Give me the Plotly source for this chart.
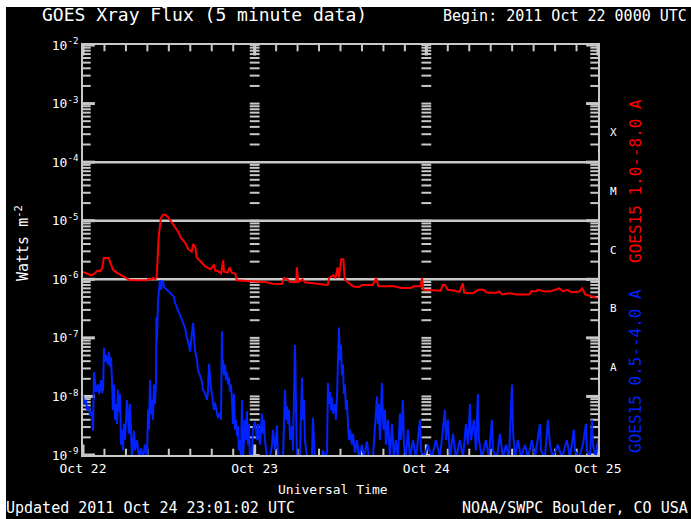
import numpy as np
import pandas as pd
import plotly.graph_objects as go

# ---- data -------------------------------------------------------------
BEGIN = pd.Timestamp("2011-10-22 00:00")

# GOES-15 long channel (1.0-8.0 A), hours since begin, W m^-2
red_hours = [
    0.00, 0.50, 1.10, 1.60, 2.00, 2.40, 2.70, 2.90, 3.60, 3.90, 4.20, 4.70,
    5.30, 5.90, 6.60, 8.00, 8.90, 9.20, 9.50, 9.80, 10.10, 10.30, 10.45, 10.60,
    10.80, 10.90, 11.20, 11.50, 11.90, 12.40, 12.90, 13.30, 13.70, 14.30, 14.70,
    15.20, 15.40, 15.70, 15.90, 16.40, 17.10, 17.80, 18.00, 18.30, 18.50, 18.80,
    19.30, 19.60, 19.70, 20.20, 20.50, 20.80, 21.30, 21.50, 23.00, 24.00, 25.50,
    26.50, 27.80, 28.10, 28.60, 29.00, 29.80, 29.90, 30.10, 30.70, 31.00, 32.50,
    33.60, 34.20, 34.40, 35.00, 35.30, 35.60, 35.80, 36.10, 36.40, 36.60, 37.00,
    37.80, 38.60, 39.00, 40.50, 41.00, 41.30, 43.50, 44.50, 45.80, 46.30, 47.20,
    47.40, 47.60, 50.00, 50.30, 50.60, 51.00, 52.00, 52.60, 53.10, 53.30, 54.50,
    55.30, 56.00, 56.50, 57.80, 58.20, 58.60, 59.30, 60.00, 60.60, 62.40, 62.70,
    63.30, 63.60, 64.60, 65.50, 66.60, 67.10, 67.70, 68.30, 69.40, 69.80, 70.20,
    71.00, 71.90,
]
red_flux = [
    1.33e-6, 1.25e-6, 1.17e-6, 1.25e-6, 1.40e-6, 1.38e-6, 1.55e-6, 2.30e-6,
    2.30e-6, 1.80e-6, 1.45e-6, 1.30e-6, 1.17e-6, 1.07e-6, 9.6e-7, 9.6e-7,
    9.6e-7, 1.02e-6, 9.8e-7, 1.05e-6, 1.00e-6, 1.10e-6, 3.5e-6, 5.6e-6,
    8.9e-6, 1.12e-5, 1.27e-5, 1.27e-5, 1.15e-5, 9.5e-6, 7.9e-6, 6.5e-6,
    5.1e-6, 4.2e-6, 3.3e-6, 2.95e-6, 4.0e-6, 3.5e-6, 2.35e-6, 2.0e-6,
    1.66e-6, 1.48e-6, 1.55e-6, 1.78e-6, 1.40e-6, 1.40e-6, 1.26e-6, 2.1e-6,
    1.35e-6, 1.30e-6, 1.60e-6, 1.30e-6, 1.25e-6, 9.6e-7, 9.5e-7, 9.2e-7,
    9.0e-7, 8.4e-7, 8.3e-7, 1.05e-6, 1.00e-6, 9.0e-7, 9.0e-7, 1.6e-6,
    9.0e-7, 1.00e-6, 8.9e-7, 8.5e-7, 8.0e-7, 8.0e-7, 1.05e-6, 1.18e-6,
    1.05e-6, 1.60e-6, 1.07e-6, 2.2e-6, 2.2e-6, 1.00e-6, 9.0e-7, 7.5e-7,
    7.4e-7, 8.0e-7, 8.0e-7, 1.05e-6, 7.6e-7, 7.6e-7, 7.1e-7, 7.1e-7,
    7.6e-7, 7.6e-7, 1.05e-6, 6.6e-7, 6.4e-7, 8.0e-7, 8.0e-7, 6.6e-7,
    6.4e-7, 6.0e-7, 8.5e-7, 5.9e-7, 5.8e-7, 6.6e-7, 6.6e-7, 5.9e-7,
    5.9e-7, 6.2e-7, 5.5e-7, 5.7e-7, 5.7e-7, 5.5e-7, 5.5e-7, 6.3e-7,
    6.2e-7, 6.6e-7, 6.2e-7, 6.3e-7, 7.0e-7, 6.2e-7, 6.6e-7, 6.0e-7,
    6.2e-7, 7.0e-7, 5.5e-7, 5.2e-7, 4.8e-7,
]

# GOES-15 short channel (0.5-4.0 A), hours since begin, W m^-2
blue_hours = [
    0.00, 0.14, 0.42, 0.56, 0.84, 0.98, 1.26, 1.40, 1.54, 1.68, 1.82, 2.10,
    2.24, 2.52, 2.66, 2.80, 2.94, 3.08, 3.22, 3.49, 3.63, 3.77, 3.91, 4.05,
    4.19, 4.33, 4.47, 4.61, 4.75, 4.89, 5.03, 5.17, 5.31, 5.45, 5.59, 5.73,
    5.87, 6.15, 6.29, 6.43, 6.57, 6.71, 6.85, 7.13, 7.27, 7.55, 7.83, 8.11,
    8.39, 8.67, 8.95, 9.09, 9.23, 9.37, 9.51, 9.65, 9.78, 9.92, 10.06, 10.20,
    10.27, 10.34, 10.48, 10.62, 10.76, 10.90, 11.04, 11.18, 11.32, 11.60, 11.88,
    12.16, 12.44, 12.72, 12.86, 13.14, 13.42, 13.70, 13.98, 14.26, 14.54, 14.82,
    14.96, 15.10, 15.24, 15.38, 15.52, 15.66, 15.94, 16.07, 16.35, 16.63, 16.77,
    17.05, 17.33, 17.47, 17.61, 17.75, 17.89, 18.03, 18.17, 18.31, 18.45, 18.73,
    18.87, 19.15, 19.29, 19.43, 19.50, 19.57, 19.71, 19.85, 19.99, 20.13, 20.27,
    20.41, 20.55, 20.69, 20.83, 20.97, 21.11, 21.25, 21.39, 21.53, 21.67, 21.81,
    21.95, 22.09, 22.23, 22.37, 22.64, 22.78, 22.92, 23.06, 23.20, 23.34, 23.62,
    23.76, 24.04, 24.32, 24.46, 24.74, 25.02, 25.16, 25.30, 25.44, 25.72, 26.14,
    26.42, 26.56, 26.84, 27.12, 27.26, 27.96, 28.24, 28.38, 28.52, 28.66, 28.80,
    28.94, 29.21, 29.35, 29.63, 29.77, 29.91, 30.33, 30.61, 30.75, 30.89, 31.03,
    31.31, 32.01, 32.15, 32.29, 32.43, 33.41, 33.55, 33.83, 34.11, 34.25, 34.38,
    34.53, 34.67, 34.81, 34.95, 35.22, 35.36, 35.50, 35.64, 35.78, 35.92, 36.06,
    36.20, 36.34, 36.48, 36.62, 36.76, 36.90, 37.04, 37.18, 37.32, 37.60, 37.74,
    38.02, 38.30, 38.58, 39.00, 39.28, 39.70, 39.98, 40.54, 40.82, 40.96, 41.10,
    41.23, 41.37, 41.51, 41.79, 42.00, 42.21, 42.35, 42.63, 42.91, 43.19, 43.47,
    43.75, 44.03, 44.31, 44.45, 44.73, 44.87, 45.15, 45.43, 45.71, 46.13, 46.55,
    47.11, 47.25, 47.67, 48.22, 48.78, 49.34, 49.90, 50.32, 50.60, 50.74, 51.02,
    51.30, 51.72, 52.14, 52.70, 53.12, 53.54, 53.82, 54.10, 54.24, 54.66, 54.94,
    55.21, 55.35, 55.77, 56.33, 56.75, 57.17, 57.31, 57.87, 58.29, 58.71, 59.13,
    59.55, 59.97, 60.11, 60.39, 60.81, 61.23, 61.79, 62.20, 62.76, 63.18, 63.88,
    64.02, 64.58, 65.00, 65.28, 65.70, 66.40, 66.96, 67.65, 68.07, 68.63, 68.77,
    69.33, 69.89, 70.31, 70.45, 70.87, 71.15, 71.29, 71.71, 72.00,
]
blue_flux = [
    1.1e-8, 7.4e-9, 8.7e-9, 5.9e-9, 6.8e-9, 4.6e-9, 5.6e-9, 2.6e-9, 2.6e-8, 1.8e-8,
    1.2e-8, 1.6e-8, 1.1e-8, 1.9e-8, 1.15e-8, 1.3e-8, 6.8e-8, 3.9e-8, 5.1e-8, 3.5e-8,
    5.8e-8, 3.2e-8, 4.6e-8, 1.9e-8, 5.9e-9, 1.6e-8, 4.0e-9, 7.4e-9, 3.4e-9, 1.3e-8,
    5.5e-9, 1.1e-8, 1.5e-9, 2.7e-9, 1.2e-9, 3.4e-9, 1.8e-9, 8.7e-9, 4.0e-9, 2.3e-9,
    7.4e-9, 1.5e-9, 9e-10, 2.6e-9, 1.2e-9, 1.8e-9, 9e-10, 1.3e-9, 9e-10, 1.5e-9,
    9e-10, 5.9e-9, 2.7e-9, 1.9e-8, 5.1e-9, 8.7e-9, 4.0e-9, 1.6e-8, 7.4e-9, 1.7e-8,
    2.3e-7, 9.2e-8, 4.0e-7, 8.0e-7, 9.7e-7, 6.6e-7, 9.0e-7, 9.3e-7, 7.4e-7, 6.9e-7,
    6.3e-7, 5.8e-7, 5.4e-7, 5.0e-7, 4.0e-7, 3.3e-7, 2.7e-7, 2.2e-7, 1.9e-7, 1.5e-7,
    1.0e-7, 7.6e-8, 5.8e-8, 9.2e-8, 1.4e-7, 1.8e-7, 1.1e-7, 6.2e-8, 4.2e-8, 2.8e-8,
    2.3e-8, 1.8e-8, 1.3e-8, 1.15e-8, 8.7e-9, 1.2e-8, 3.6e-8, 1.9e-8, 1.4e-8, 1.1e-8,
    7.4e-9, 5.9e-9, 7.8e-9, 5.6e-9, 4.3e-9, 5.3e-9, 4.0e-9, 1.3e-7, 2.8e-8, 4.2e-8,
    2.3e-8, 3.5e-8, 1.9e-8, 2.6e-8, 1.6e-8, 2.1e-8, 1.2e-8, 1.6e-8, 8.7e-9, 3.4e-9,
    1.1e-8, 2.7e-9, 4.0e-9, 2.1e-9, 3.1e-9, 1.2e-9, 1.8e-9, 9e-10, 8.7e-9, 9e-10,
    4.0e-9, 1.8e-9, 5.6e-9, 1.5e-9, 3.4e-9, 9e-10, 9e-10, 2.7e-9, 3.7e-9, 1.8e-9,
    3.4e-9, 1.5e-9, 5.1e-9, 2.3e-9, 4.0e-9, 1.8e-9, 9e-10, 9e-10, 1.5e-9, 2.7e-9,
    1.2e-9, 3.2e-9, 9e-10, 9e-10, 1.3e-8, 4.0e-9, 6.8e-9, 3.4e-9, 5.9e-9, 1.8e-9,
    3.1e-9, 1.2e-9, 7.6e-8, 2.7e-9, 9e-10, 9e-10, 2.1e-8, 4.0e-9, 8.7e-9, 1.8e-9,
    9e-10, 9e-10, 4.3e-9, 1.8e-9, 9e-10, 9e-10, 1.2e-9, 9e-10, 1.1e-9, 1.7e-8,
    7.4e-9, 1.2e-8, 5.9e-9, 9.6e-9, 5.1e-9, 7.4e-9, 4.0e-9, 8.7e-9, 2.8e-8, 1.5e-7,
    4.2e-8, 7.6e-8, 2.3e-8, 3.5e-8, 1.1e-8, 1.6e-8, 5.9e-9, 8.7e-9, 3.4e-9, 1.8e-9,
    2.7e-9, 1.5e-9, 2.3e-9, 1.1e-9, 1.8e-9, 9e-10, 1.5e-9, 9e-10, 1.7e-9, 9e-10,
    9e-10, 2.6e-9, 5.9e-9, 1.0e-8, 3.4e-9, 7.4e-9, 1.8e-9, 1.7e-8, 2.7e-9, 5.9e-9,
    1.5e-9, 4.0e-9, 9e-10, 3.4e-9, 9e-10, 1.8e-9, 9e-10, 5.1e-9, 1.8e-9, 8.7e-9,
    1.5e-9, 9e-10, 2.7e-9, 9e-10, 1.8e-9, 9e-10, 4.0e-9, 1.2e-9, 9e-10, 1.5e-9,
    9e-10, 1.8e-9, 9e-10, 3.4e-9, 5.9e-9, 1.8e-9, 4.0e-9, 9e-10, 2.3e-9, 9e-10,
    1.8e-9, 9e-10, 3.4e-9, 1.5e-9, 7.4e-9, 1.8e-9, 4.0e-9, 1.2e-9, 1.1e-8, 1.8e-9,
    9e-10, 1.8e-9, 9e-10, 4.0e-9, 1.2e-9, 9e-10, 2.3e-9, 9e-10, 1.5e-9, 9e-10,
    1.6e-8, 2.7e-9, 9e-10, 1.8e-9, 9e-10, 1.5e-9, 9e-10, 1.8e-9, 9e-10, 3.4e-9,
    1.2e-9, 9e-10, 4.0e-9, 1.5e-9, 9e-10, 1.5e-9, 9e-10, 1.8e-9, 9e-10, 2.7e-9,
    1.2e-9, 9e-10, 1.5e-9, 3.4e-9, 1.2e-9, 9e-10, 4.0e-9, 1.5e-9, 9e-10, 1.8e-9,
]

day_ticks = ["2011-10-22", "2011-10-23", "2011-10-24", "2011-10-25"]
day_labels = ["Oct 22", "Oct 23", "Oct 24", "Oct 25"]
decades = [1e-9, 1e-8, 1e-7, 1e-6, 1e-5, 1e-4, 1e-3, 1e-2]
decade_labels = ["10<sup>-9</sup>", "10<sup>-8</sup>", "10<sup>-7</sup>",
                 "10<sup>-6</sup>", "10<sup>-5</sup>", "10<sup>-4</sup>",
                 "10<sup>-3</sup>", "10<sup>-2</sup>"]
class_bounds = [1e-6, 1e-5, 1e-4]
class_names = ["A", "B", "C", "M", "X"]
class_lower = [1e-8, 1e-7, 1e-6, 1e-5, 1e-4]

# ---- styling ----------------------------------------------------------
W, H = 691, 519
ML, MT = 6, 7                      # white page border (left, top)
L, R, T, B = 83, 598, 45, 455      # chart frame in page pixels
FONT = "DejaVu Sans Mono"
GRAY = "#c8c8c8"


def px(x):
    """page pixel column -> paper fraction"""
    return (x - ML) / (W - ML)


def py(y):
    """page pixel row -> paper fraction"""
    return (H - y) / (H - MT)


red_t = BEGIN + pd.to_timedelta(red_hours, unit="h")
blue_t = BEGIN + pd.to_timedelta(blue_hours, unit="h")
t_start, t_end = pd.Timestamp(day_ticks[0]), pd.Timestamp(day_ticks[-1])
three_hourly = pd.date_range(t_start, t_end, freq="3h")
minor_vals = [m * d for d in decades[:-1] for m in range(2, 10)]

CHART = dict(xaxis="x2", yaxis="y2")

fig = go.Figure()

# empty full-page subplot: gives the black page background inside the border
fig.add_trace(go.Scatter(x=[0.5], y=[0.5], mode="markers",
                         marker=dict(size=1, opacity=0), hoverinfo="skip",
                         showlegend=False, xaxis="x", yaxis="y"))


def tick_marks(xs, ys, symbol, size, width):
    """Short gray tick strokes drawn as clipped line markers."""
    fig.add_trace(go.Scatter(
        x=xs, y=ys, mode="markers", cliponaxis=True,
        marker=dict(symbol=symbol, size=size, color=GRAY,
                    line=dict(width=width, color=GRAY)),
        hoverinfo="skip", showlegend=False, **CHART,
    ))


# y ticks on the left/right frame (half of each stroke is clipped away)
for edge in (t_start, t_end):
    tick_marks([edge] * len(minor_vals), minor_vals, "line-ew", 11, 2)
    tick_marks([edge] * len(decades), decades, "line-ew", 17, 3)
# y ticks repeated along each interior day boundary
for d in day_ticks[1:3]:
    ys = minor_vals + decades
    tick_marks([pd.Timestamp(d)] * len(ys), ys, "line-ew", 7, 2)
# time ticks on the bottom/top frame
for edge in (decades[0], decades[-1]):
    tick_marks(list(three_hourly), [edge] * len(three_hourly), "line-ns", 9, 2)
    tick_marks([pd.Timestamp(d) for d in day_ticks], [edge] * len(day_ticks),
               "line-ns", 15, 3)

# flare-class boundary lines across the full time range
grid_x, grid_y = [], []
for v in class_bounds:
    grid_x += [t_start, t_end, None]
    grid_y += [v, v, None]
fig.add_trace(go.Scatter(
    x=grid_x, y=grid_y, mode="lines", line=dict(color=GRAY, width=2.5),
    hoverinfo="skip", showlegend=False, connectgaps=False, **CHART,
))

fig.add_trace(go.Scatter(
    x=red_t, y=red_flux, mode="lines", line=dict(color="#ff0000", width=2),
    name="GOES15 1.0--8.0 A", showlegend=False, **CHART,
))
fig.add_trace(go.Scatter(
    x=blue_t, y=blue_flux, mode="lines", line=dict(color="#0022ff", width=2),
    name="GOES15 0.5--4.0 A", showlegend=False, **CHART,
))

ann = []


def text(s, x, y, size, color="white", xanchor="left", angle=0, yref="paper"):
    ann.append(dict(text=s, x=x, y=y, xref="paper", yref=yref, showarrow=False,
                    xanchor=xanchor, yanchor="middle", textangle=angle,
                    font=dict(family=FONT, size=size, color=color)))


text("GOES Xray Flux (5 minute data)", px(40), py(14), 18)
text("Begin: 2011 Oct 22 0000 UTC", px(441), py(16), 15)
text("Universal Time", px(333), py(489), 13, xanchor="center")
text("Updated 2011 Oct 24 23:01:02 UTC", px(4), py(508), 15)
text("NOAA/SWPC Boulder, CO USA", px(460), py(508), 15)
text("Watts m<sup>-2</sup>", px(22), py(243), 15, xanchor="center", angle=-90)
text("GOES15 1.0--8.0 A", px(635), py(181), 16, color="#ff0000",
     xanchor="center", angle=-90)
text("GOES15 0.5--4.0 A", px(635), py(371), 16, color="#0022ff",
     xanchor="center", angle=-90)
for name, lo in zip(class_names, class_lower):
    text(name, px(613), float(np.log10(lo)) + 0.5, 11, xanchor="center",
         yref="y2")

fig.update_layout(
    width=W, height=H, autosize=False,
    margin=dict(l=ML, r=0, t=MT, b=0, pad=0, autoexpand=False),
    paper_bgcolor="white", plot_bgcolor="black",
    annotations=ann, showlegend=False,
    font=dict(family=FONT, color="white"),
    xaxis=dict(domain=[0, 1], range=[0, 1], visible=False, fixedrange=True,
               automargin=False),
    yaxis=dict(domain=[0, 1], range=[0, 1], visible=False, fixedrange=True,
               automargin=False),
    xaxis2=dict(
        domain=[px(L), px(R)], anchor="y2", range=[t_start, t_end],
        tickmode="array", tickvals=day_ticks, ticktext=day_labels, ticks="",
        showline=True, linecolor=GRAY, linewidth=2, mirror=True,
        showgrid=False, zeroline=False, automargin=False,
        tickfont=dict(family=FONT, size=13, color="white"),
    ),
    yaxis2=dict(
        domain=[py(B), py(T)], anchor="x2", type="log", range=[-9, -2],
        tickmode="array", tickvals=decades, ticktext=decade_labels, ticks="",
        showline=True, linecolor=GRAY, linewidth=2, mirror=True,
        showgrid=False, zeroline=False, automargin=False,
        tickfont=dict(family=FONT, size=13, color="white"),
    ),
)

fig.write_html("out.html")
